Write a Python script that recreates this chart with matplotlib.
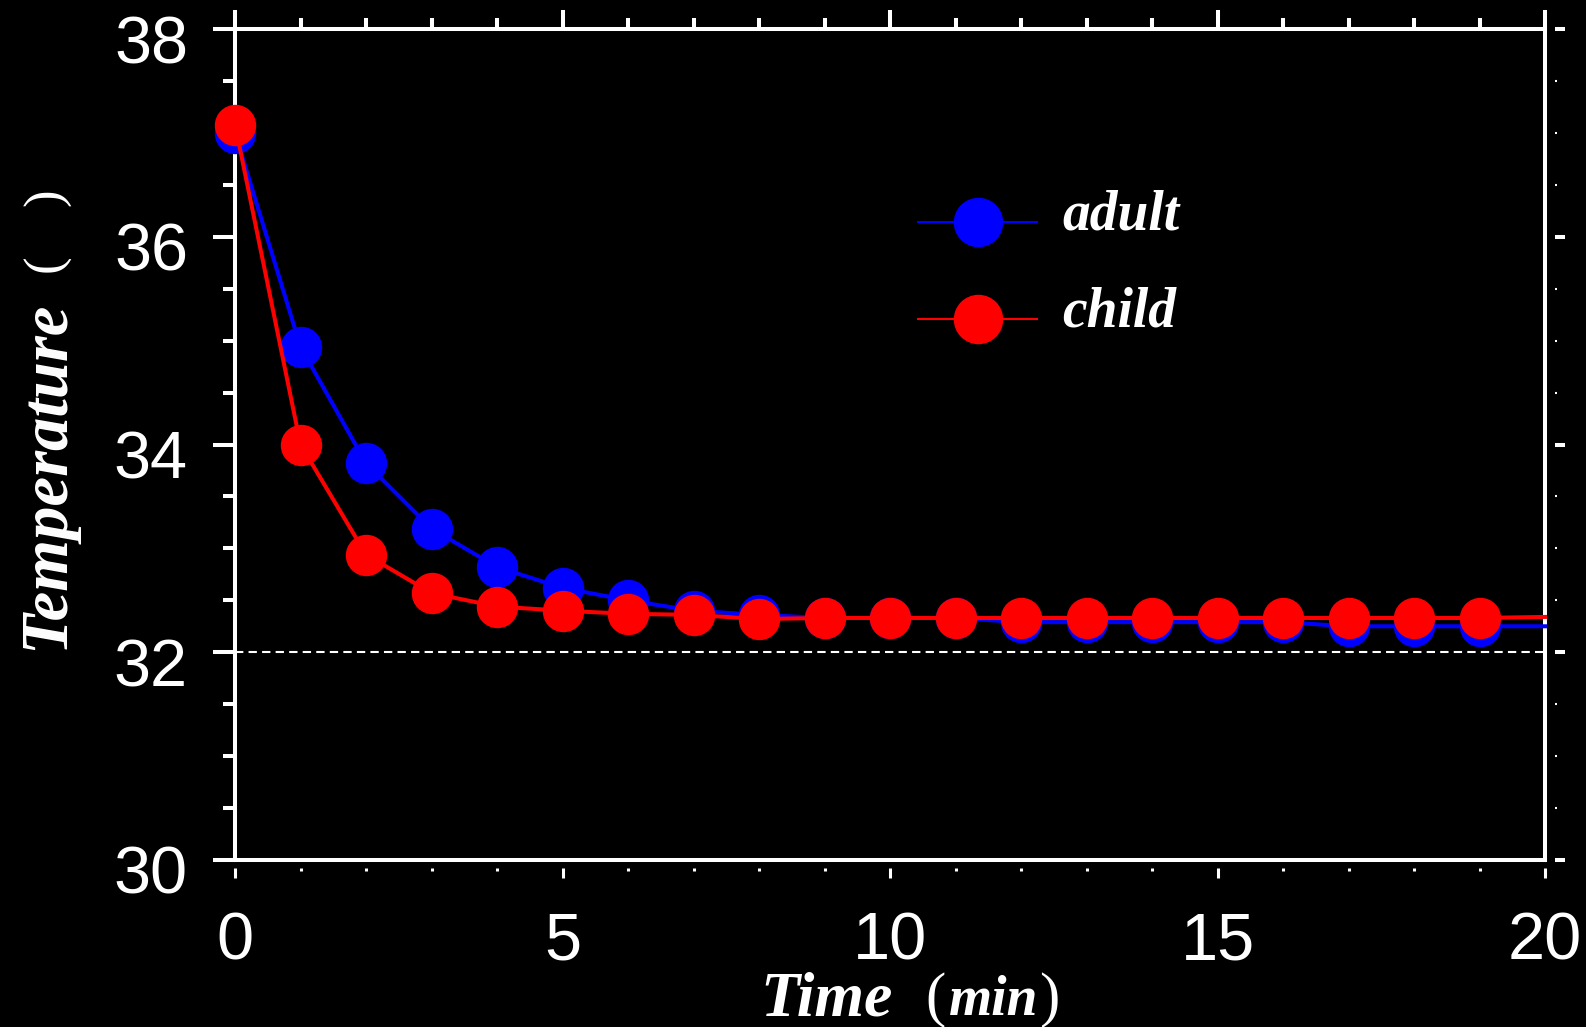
import matplotlib
matplotlib.use("Agg")
import matplotlib.pyplot as plt
from matplotlib.lines import Line2D
from matplotlib.ticker import MultipleLocator
from matplotlib.transforms import ScaledTranslation
from matplotlib.font_manager import FontProperties

# ---- data -------------------------------------------------------------
time_min = list(range(21))
adult = [37.00, 34.94, 33.82, 33.19, 32.82, 32.62, 32.50, 32.40, 32.36, 32.33,
         32.33, 32.33, 32.29, 32.29, 32.29, 32.29, 32.29, 32.25, 32.25, 32.25, 32.25]
child = [37.08, 34.00, 32.94, 32.57, 32.44, 32.40, 32.37, 32.36, 32.32, 32.33,
         32.33, 32.33, 32.33, 32.33, 32.33, 32.33, 32.33, 32.33, 32.33, 32.33, 32.34]
series_names = ["adult", "child"]
series_colors = ["#0000ff", "#ff0000"]
threshold = 32.0
x_ticks = [0, 5, 10, 15, 20]
y_ticks = [30, 32, 34, 36, 38]

# ---- figure / axes geometry (pixels) ---------------------------------
W, H, DPI = 1586, 1027, 100
L, R, T, B = 235, 1545, 29, 860
fig = plt.figure(figsize=(W / DPI, H / DPI), dpi=DPI, facecolor="black")
ax = fig.add_axes([L / W, 1 - B / H, (R - L) / W, (B - T) / H])
ax.set_facecolor("black")


def px(x, y):
    return x / W, 1 - y / H


# twin axes carry the offset bottom and right tick rows
axb = ax.twiny()
axr = ax.twinx()

WHITE = "white"
SPW = 2.9

for s in ax.spines.values():
    s.set_color(WHITE)
    s.set_linewidth(SPW)

ax.set_xlim(0, 20)
ax.set_ylim(30, 38)

# top ticks (main axes)
ax.xaxis.set_ticks_position("top")
ax.set_xticks(x_ticks)
ax.xaxis.set_minor_locator(MultipleLocator(1))
ax.tick_params(axis="x", which="both", top=True, bottom=False,
               labeltop=False, labelbottom=False, direction="out", colors=WHITE)
ax.tick_params(axis="x", which="major", length=13.7, width=SPW)
ax.tick_params(axis="x", which="minor", length=8.0, width=SPW)

# left ticks + labels
ax.yaxis.set_ticks_position("left")
ax.set_yticks(y_ticks)
ax.yaxis.set_minor_locator(MultipleLocator(0.5))
ax.tick_params(axis="y", which="both", left=True, right=False, direction="out",
               colors=WHITE, labelsize=48, pad=18)
ax.tick_params(axis="y", which="major", length=15.8, width=SPW)
ax.tick_params(axis="y", which="minor", length=8.6, width=SPW)
for lbl in ax.get_yticklabels():
    lbl.set_fontfamily("Liberation Sans")
    lbl.set_transform(lbl.get_transform()
                      + ScaledTranslation(0, -0.10, fig.dpi_scale_trans))

# bottom ticks + labels (offset row)
axb.set_xlim(0, 20)
axb.xaxis.set_ticks_position("bottom")
axb.xaxis.set_label_position("bottom")
axb.spines["bottom"].set_position(("outward", 5.8))
for s in axb.spines.values():
    s.set_visible(False)
axb.set_xticks(x_ticks)
axb.xaxis.set_minor_locator(MultipleLocator(1))
axb.tick_params(axis="x", which="both", bottom=True, top=False,
                labelbottom=True, labeltop=False, direction="out",
                colors=WHITE, labelsize=48, pad=24)
axb.tick_params(axis="x", which="major", length=7.2, width=2.2)
axb.tick_params(axis="x", which="minor", length=2.2, width=2.2)
for lbl in axb.get_xticklabels():
    lbl.set_fontfamily("Liberation Sans")

# right ticks (offset row, no labels)
axr.set_ylim(30, 38)
axr.yaxis.set_ticks_position("right")
axr.spines["right"].set_position(("outward", 7.2))
for s in axr.spines.values():
    s.set_visible(False)
axr.set_yticks(y_ticks)
axr.yaxis.set_minor_locator(MultipleLocator(0.5))
axr.tick_params(axis="y", which="both", right=True, left=False,
                labelright=False, labelleft=False, direction="out", colors=WHITE)
axr.tick_params(axis="y", which="major", length=7.2, width=2.9)
axr.tick_params(axis="y", which="minor", length=1.5, width=1.5)

# ---- data marks --------------------------------------------------------
ax.axhline(threshold, color=WHITE, lw=1.5, ls=(0, (4, 2.5)), zorder=1)
for vals, col in zip([adult, child], series_colors):
    ax.plot(time_min, vals, color=col, lw=2.9, marker="o", ms=28.8,
            mfc=col, mec=col, markevery=slice(0, len(time_min) - 1),
            clip_on=False, zorder=3)

# ---- legend ------------------------------------------------------------
handles = [Line2D([], [], color=c, lw=1.5, marker="o", ms=34.6, mfc=c, mec=c)
           for c in series_colors]
leg_font = FontProperties(family="Liberation Serif", weight="bold",
                          style="italic", size=40)
leg = ax.legend(handles, series_names, loc="center left",
                bbox_to_anchor=((918 - L) / (R - L), (B - 276) / (B - T)),
                frameon=False, borderpad=0, borderaxespad=0,
                handlelength=2.15, handletextpad=0.45, labelspacing=0.80,
                prop=leg_font, labelcolor=WHITE)
# legend labels sit a little above their markers
for t in leg.get_texts():
    t.set_y(12)

# ---- axis titles -------------------------------------------------------
serif_bi = dict(fontfamily="Liberation Serif", fontweight="bold",
                fontstyle="italic", color=WHITE)
serif_rm = dict(fontfamily="Liberation Serif", color=WHITE)

fig.text(*px(63, 650), "Temperature", rotation=90, rotation_mode="anchor",
         ha="left", va="baseline", fontsize=48, **serif_bi)
fig.text(*px(47, 263), "(", rotation=90, ha="center", va="center",
         fontsize=38, **serif_rm)
fig.text(*px(47, 197), ")", rotation=90, ha="center", va="center",
         fontsize=38, **serif_rm)

fig.text(*px(760, 1015), "Time", ha="left", va="baseline", fontsize=46,
         **serif_bi)
fig.text(*px(925, 1015), "(", ha="left", va="baseline", fontsize=44,
         **serif_rm)
fig.text(*px(949, 1015), "min", ha="left", va="baseline", fontsize=40,
         **serif_bi)
fig.text(*px(1039, 1015), ")", ha="left", va="baseline", fontsize=44,
         **serif_rm)

fig.savefig("out.png", dpi=DPI, facecolor="black")
